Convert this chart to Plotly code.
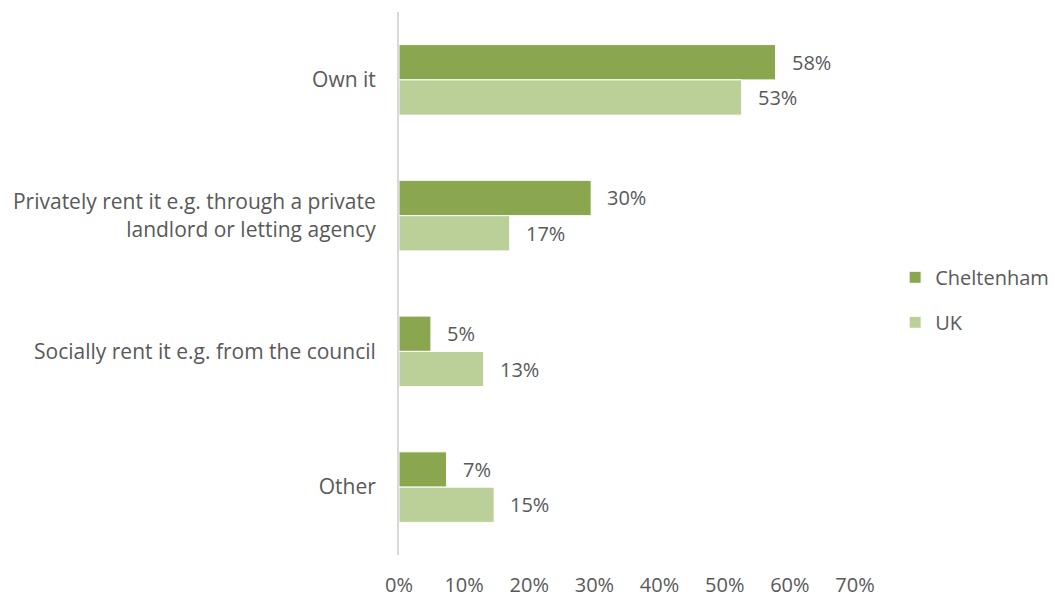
import plotly.graph_objects as go

# Housing tenure: share of respondents, Cheltenham vs UK
categories = ["Own it",
              "Privately rent it e.g. through a private<br>landlord or letting agency",
              "Socially rent it e.g. from the council",
              "Other"]
cheltenham = [57.8, 29.5, 4.9, 7.3]
uk = [52.6, 17.0, 13.0, 14.6]
x_ticks = [0, 10, 20, 30, 40, 50, 60, 70]
x_tick_labels = ["0%", "10%", "20%", "30%", "40%", "50%", "60%", "70%"]

TEXT = "#595959"
FONT = "Open Sans"
FS = 20
C_CHELT = "#8AA64E"
C_UK = "#BBD098"
BAR_W = 0.26

pos = list(range(len(categories)))

fig = go.Figure()
fig.add_trace(go.Bar(
    name="Cheltenham", y=pos, x=cheltenham, orientation="h",
    width=BAR_W, offset=-BAR_W, marker=dict(color=C_CHELT, line=dict(color="#ffffff", width=1)),
    legendgroup="a", hoverinfo="x+name",
))
fig.add_trace(go.Bar(
    name="UK", y=pos, x=uk, orientation="h",
    width=BAR_W, offset=0, marker=dict(color=C_UK, line=dict(color="#ffffff", width=1)),
    legendgroup="b", hoverinfo="x+name",
))

# value labels just past the bar ends
for p, v in zip(pos, cheltenham):
    fig.add_annotation(x=v, y=p - BAR_W / 2, text=f"{v:.0f}%", showarrow=False,
                       xanchor="left", xshift=14, font=dict(family=FONT, size=FS, color=TEXT))
for p, v in zip(pos, uk):
    fig.add_annotation(x=v, y=p + BAR_W / 2, text=f"{v:.0f}%", showarrow=False,
                       xanchor="left", xshift=14, font=dict(family=FONT, size=FS, color=TEXT))

fig.update_layout(
    width=1055, height=598,
    margin=dict(l=399, r=200, t=12, b=43, autoexpand=False),
    paper_bgcolor="white", plot_bgcolor="white",
    font=dict(family=FONT, size=FS, color=TEXT),
    barmode="overlay",
    showlegend=True,
    legend=dict(x=1.088, y=0.47, xanchor="left", yanchor="middle",
                font=dict(family=FONT, size=FS, color=TEXT),
                tracegroupgap=16, itemwidth=30, bgcolor="rgba(0,0,0,0)"),
    xaxis=dict(range=[0, 70], tickvals=x_ticks, ticktext=x_tick_labels,
               showgrid=False, zeroline=False, showline=False, ticks="",
               ticklabelstandoff=16, tickfont=dict(family=FONT, size=FS, color=TEXT)),
    yaxis=dict(range=[3.5, -0.5], tickvals=pos, ticktext=categories,
               showgrid=False, zeroline=False, showline=True, linecolor="#D9D9D9",
               linewidth=2, ticks="", ticklabelstandoff=17,
               tickfont=dict(family=FONT, size=21, color=TEXT)),
)

fig.write_html("out.html")
